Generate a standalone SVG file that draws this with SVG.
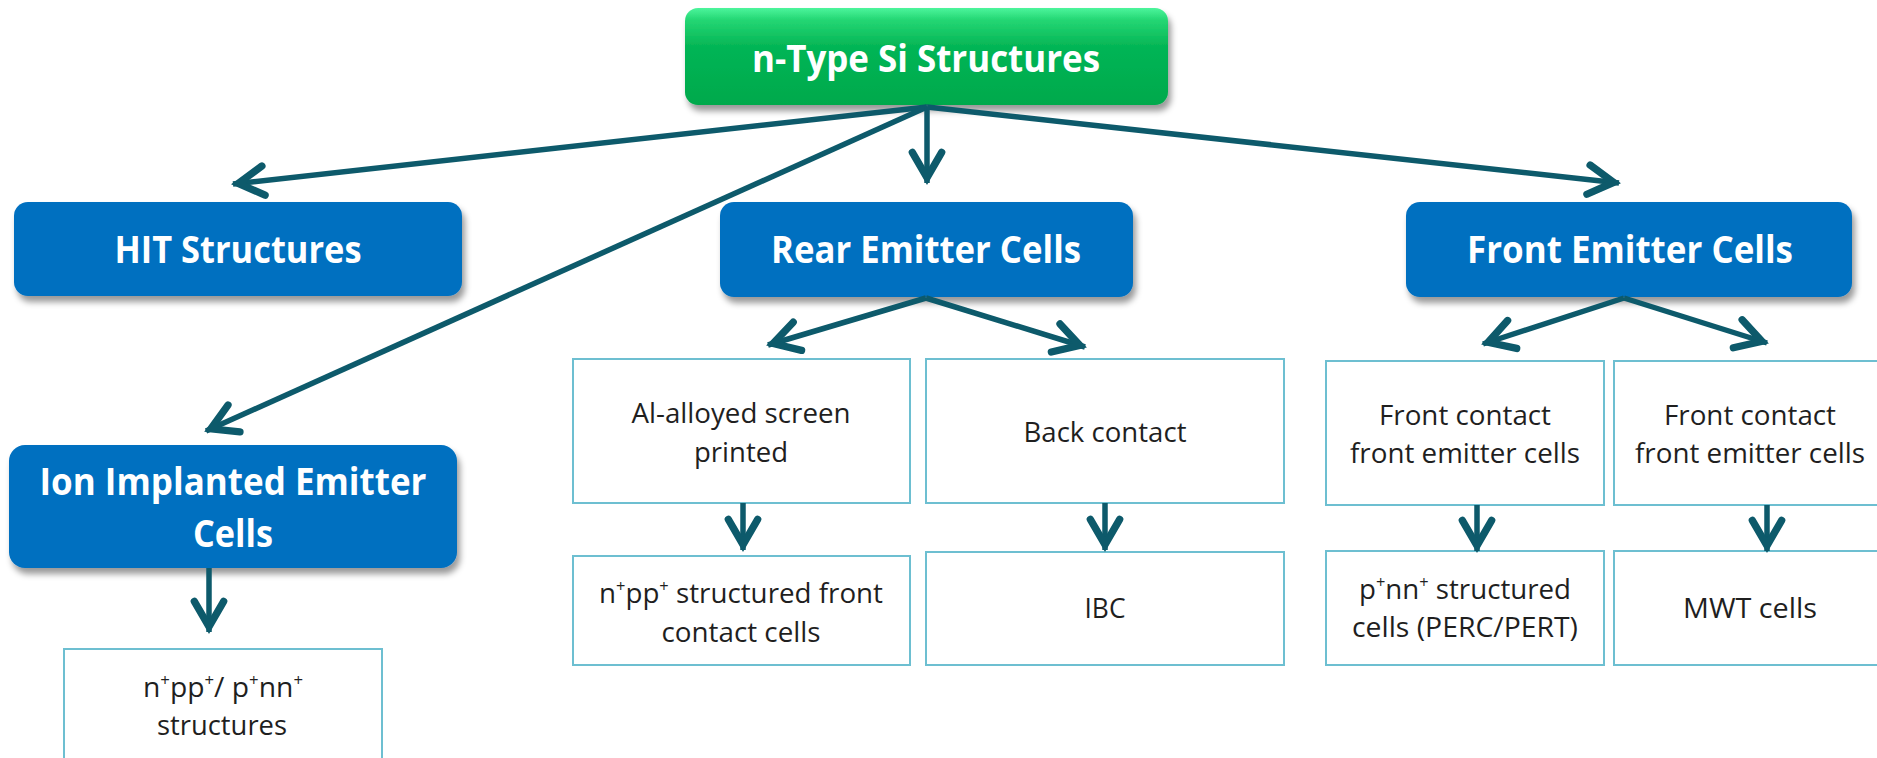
<svg xmlns="http://www.w3.org/2000/svg" width="1877" height="758" viewBox="0 0 1877 758">
<defs>
<linearGradient id="gGreen" x1="0" y1="0" x2="0" y2="1">
<stop offset="0" stop-color="#4cf59c"/>
<stop offset="0.12" stop-color="#25d774"/>
<stop offset="0.4" stop-color="#04b555"/>
<stop offset="1" stop-color="#00a94c"/>
</linearGradient>
<filter id="shadow" x="-10%" y="-20%" width="120%" height="150%">
<feDropShadow dx="3" dy="6" stdDeviation="3" flood-color="#000" flood-opacity="0.4"/>
</filter>
<marker id="arr" markerUnits="userSpaceOnUse" orient="auto" markerWidth="40" markerHeight="40" viewBox="-25 -15 30 30" refX="4" refY="0" overflow="visible">
<path d="M-19,-11 L0,0 L-19,11" fill="none" stroke="#0d5a6b" stroke-width="5.5" stroke-linecap="round" stroke-linejoin="miter"/>
</marker>
<style>
.blue{fill:#0070c0;filter:url(#shadow);}
.green{fill:url(#gGreen);filter:url(#shadow);}
.wbox{fill:#ffffff;stroke:#6dbfd1;stroke-width:2;}
.hd{font-family:"Open Sans","Liberation Sans",sans-serif;font-weight:bold;font-size:38px;fill:#ffffff;text-anchor:middle;}
.tx{font-family:"Open Sans","Liberation Sans",sans-serif;font-size:27px;fill:#1f1f1f;text-anchor:middle;}
.sup{font-size:16px;}
.con line{stroke:#0d5a6b;stroke-width:5.5;fill:none;marker-end:url(#arr);}
</style>
</defs>
<rect width="1877" height="758" fill="#ffffff"/>

<g id="n-root">
<rect class="green" x="685" y="8" width="483" height="97" rx="13"/>
<text class="hd" x="926" y="72" textLength="348" lengthAdjust="spacingAndGlyphs">n-Type Si Structures</text>
</g>

<g id="n-hit">
<rect class="blue" x="14" y="202" width="448" height="94" rx="14"/>
<text class="hd" x="238" y="263" textLength="247" lengthAdjust="spacingAndGlyphs">HIT Structures</text>
</g>

<g id="n-rear">
<rect class="blue" x="720" y="202" width="413" height="95" rx="14"/>
<text class="hd" x="926" y="263" textLength="310" lengthAdjust="spacingAndGlyphs">Rear Emitter Cells</text>
</g>

<g id="n-front">
<rect class="blue" x="1406" y="202" width="446" height="95" rx="14"/>
<text class="hd" x="1630" y="263" textLength="326" lengthAdjust="spacingAndGlyphs">Front Emitter Cells</text>
</g>

<g id="n-ion">
<rect class="blue" x="9" y="445" width="448" height="123" rx="16"/>
<text class="hd" x="233" y="495" textLength="387" lengthAdjust="spacingAndGlyphs">Ion Implanted Emitter</text>
<text class="hd" x="233" y="547" textLength="80" lengthAdjust="spacingAndGlyphs">Cells</text>
</g>

<g id="n-ion-sub">
<rect class="wbox" x="64" y="649" width="318" height="130"/>
<text class="tx" x="223" y="697" textLength="160" lengthAdjust="spacingAndGlyphs">n<tspan class="sup" dy="-11">+</tspan><tspan dy="11">pp</tspan><tspan class="sup" dy="-11">+</tspan><tspan dy="11">/ p</tspan><tspan class="sup" dy="-11">+</tspan><tspan dy="11">nn</tspan><tspan class="sup" dy="-11">+</tspan></text>
<text class="tx" x="222" y="735" textLength="130" lengthAdjust="spacingAndGlyphs">structures</text>
</g>

<g id="n-al">
<rect class="wbox" x="573" y="359" width="337" height="144"/>
<text class="tx" x="741" y="423" textLength="219" lengthAdjust="spacingAndGlyphs">Al-alloyed screen</text>
<text class="tx" x="741" y="462" textLength="94" lengthAdjust="spacingAndGlyphs">printed</text>
</g>

<g id="n-back">
<rect class="wbox" x="926" y="359" width="358" height="144"/>
<text class="tx" x="1105" y="442" textLength="163" lengthAdjust="spacingAndGlyphs">Back contact</text>
</g>

<g id="n-npp">
<rect class="wbox" x="573" y="556" width="337" height="109"/>
<text class="tx" x="741" y="603" textLength="284" lengthAdjust="spacingAndGlyphs">n<tspan class="sup" dy="-11">+</tspan><tspan dy="11">pp</tspan><tspan class="sup" dy="-11">+</tspan><tspan dy="11"> structured front</tspan></text>
<text class="tx" x="741" y="642" textLength="159" lengthAdjust="spacingAndGlyphs">contact cells</text>
</g>

<g id="n-ibc">
<rect class="wbox" x="926" y="552" width="358" height="113"/>
<text class="tx" x="1105" y="618" textLength="41" lengthAdjust="spacingAndGlyphs">IBC</text>
</g>

<g id="n-fc1">
<rect class="wbox" x="1326" y="361" width="278" height="144"/>
<text class="tx" x="1465" y="425" textLength="172" lengthAdjust="spacingAndGlyphs">Front contact</text>
<text class="tx" x="1465" y="463" textLength="230" lengthAdjust="spacingAndGlyphs">front emitter cells</text>
</g>

<g id="n-fc2">
<rect class="wbox" x="1614" y="361" width="280" height="144"/>
<text class="tx" x="1750" y="425" textLength="172" lengthAdjust="spacingAndGlyphs">Front contact</text>
<text class="tx" x="1750" y="463" textLength="230" lengthAdjust="spacingAndGlyphs">front emitter cells</text>
</g>

<g id="n-pnn">
<rect class="wbox" x="1326" y="551" width="278" height="114"/>
<text class="tx" x="1465" y="599" textLength="212" lengthAdjust="spacingAndGlyphs">p<tspan class="sup" dy="-11">+</tspan><tspan dy="11">nn</tspan><tspan class="sup" dy="-11">+</tspan><tspan dy="11"> structured</tspan></text>
<text class="tx" x="1465" y="637" textLength="226" lengthAdjust="spacingAndGlyphs">cells (PERC/PERT)</text>
</g>

<g id="n-mwt">
<rect class="wbox" x="1614" y="551" width="280" height="114"/>
<text class="tx" x="1750" y="618" textLength="134" lengthAdjust="spacingAndGlyphs">MWT cells</text>
</g>

<g id="connectors" class="con">
<line x1="927" y1="107" x2="233" y2="184"/>
<line x1="927" y1="107" x2="206" y2="431"/>
<line x1="927" y1="107" x2="927" y2="183"/>
<line x1="927" y1="107" x2="1619" y2="183"/>
<line x1="926" y1="298" x2="768" y2="345"/>
<line x1="926" y1="298" x2="1085" y2="347"/>
<line x1="1624" y1="298" x2="1483" y2="344"/>
<line x1="1624" y1="298" x2="1767" y2="343"/>
<line x1="209" y1="568" x2="209" y2="632"/>
<line x1="743" y1="503" x2="743" y2="550"/>
<line x1="1105" y1="503" x2="1105" y2="550"/>
<line x1="1477" y1="505" x2="1477" y2="551"/>
<line x1="1767" y1="505" x2="1767" y2="551"/>
</g>
</svg>
